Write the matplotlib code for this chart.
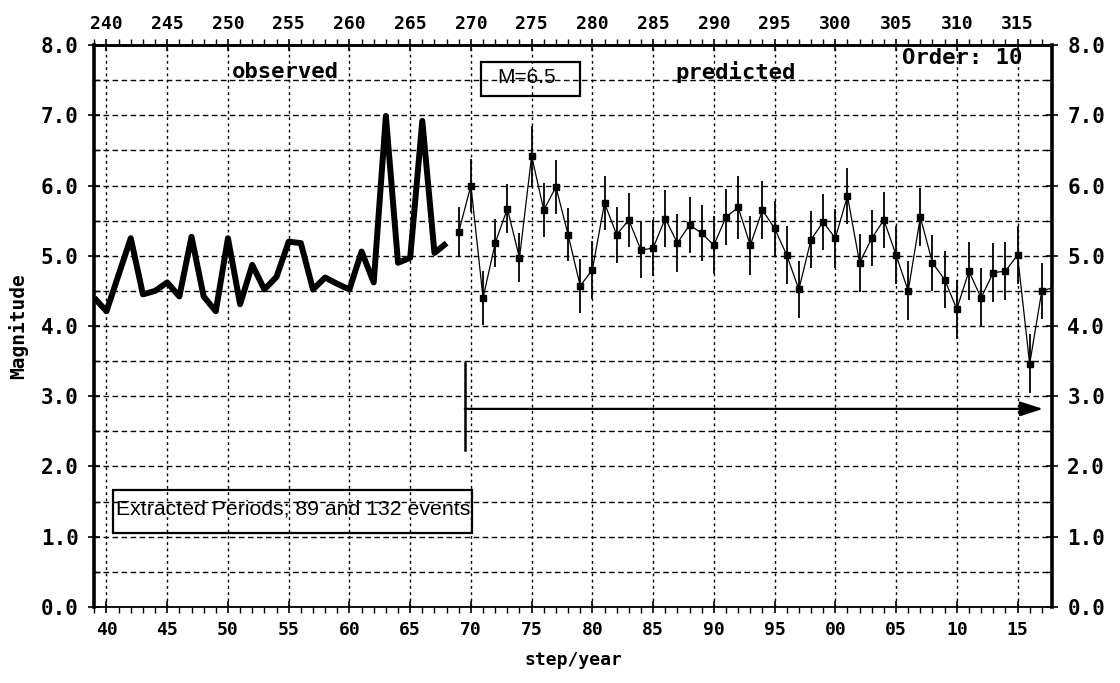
import matplotlib
matplotlib.use('Agg')
import matplotlib.pyplot as plt
from matplotlib.patches import Rectangle, FancyArrowPatch
from matplotlib.ticker import MultipleLocator

# ---------------- data ----------------
obs_years = list(range(239, 269))
obs_mag = [4.40, 4.21, 4.73, 5.25, 4.45, 4.50, 4.62, 4.42, 5.27, 4.42,
           4.21, 5.25, 4.31, 4.87, 4.52, 4.70, 5.20, 5.18, 4.52, 4.69,
           4.60, 4.52, 5.06, 4.62, 6.99, 4.90, 4.97, 6.92, 5.04, 5.18]

pred_years = list(range(269, 319))
pred_mag = [5.34, 6.00, 4.40, 5.18, 5.67, 4.97, 6.42, 5.65, 5.98, 5.30,
            4.57, 4.80, 5.75, 5.30, 5.51, 5.08, 5.11, 5.53, 5.18, 5.44,
            5.32, 5.15, 5.55, 5.69, 5.15, 5.65, 5.39, 5.01, 4.52, 5.23,
            5.48, 5.25, 5.85, 4.90, 5.25, 5.51, 5.01, 4.50, 5.55, 4.90,
            4.66, 4.24, 4.78, 4.40, 4.76, 4.78, 5.01, 3.46, 4.50, 4.55]
pred_err = [0.35, 0.38, 0.38, 0.34, 0.35, 0.35, 0.42, 0.39, 0.38, 0.38,
            0.38, 0.41, 0.38, 0.40, 0.38, 0.40, 0.40, 0.40, 0.41, 0.40,
            0.40, 0.41, 0.40, 0.45, 0.42, 0.41, 0.39, 0.41, 0.41, 0.41,
            0.40, 0.42, 0.40, 0.41, 0.40, 0.40, 0.41, 0.42, 0.41, 0.40,
            0.41, 0.42, 0.41, 0.42, 0.42, 0.41, 0.41, 0.42, 0.40, 0.40]

x_ticks = list(range(240, 316, 5))
bottom_labels = ['40', '45', '50', '55', '60', '65', '70', '75', '80', '85',
                 '90', '95', '00', '05', '10', '15']
top_labels = ['240', '245', '250', '255', '260', '265', '270', '275', '280',
              '285', '290', '295', '300', '305', '310', '315']
y_ticks = [0, 1, 2, 3, 4, 5, 6, 7, 8]
y_labels = ['0.0', '1.0', '2.0', '3.0', '4.0', '5.0', '6.0', '7.0', '8.0']

MONO = 'DejaVu Sans Mono'
SANS = 'Liberation Sans'

# ---------------- figure ----------------
fig = plt.figure(figsize=(11.2, 6.83), dpi=100)
ax = fig.add_axes([0.0839, 0.1113, 0.8554, 0.8228])
ax.set_xlim(238.97, 317.84)
ax.set_ylim(0, 8)

# grid
ax.set_axisbelow(True)
ax.xaxis.set_major_locator(MultipleLocator(5))
ax.xaxis.set_minor_locator(MultipleLocator(1))
ax.yaxis.set_major_locator(MultipleLocator(1))
ax.yaxis.set_minor_locator(MultipleLocator(0.5))
ax.xaxis.grid(True, which='major', color='black', lw=1.0, linestyle=(0, (2, 2.5)))
ax.yaxis.grid(True, which='both', color='black', lw=1.0, linestyle=(0, (4, 2.5)))

ax.set_xticks(x_ticks, bottom_labels)
ax.set_yticks(y_ticks, y_labels)

ax.tick_params(axis='x', which='major', direction='inout', length=8, width=1.2,
               pad=6, labelsize=13)
ax.tick_params(axis='x', which='minor', direction='out', length=4, width=1.0)
ax.tick_params(axis='y', which='major', direction='inout', length=8, width=1.2,
               pad=7, labelsize=15, left=True, right=True,
               labelleft=True, labelright=True)
ax.tick_params(axis='y', which='minor', direction='in', length=4, width=1.0,
               left=True, right=True)
for lab in ax.get_xticklabels() + ax.get_yticklabels():
    lab.set_fontfamily(MONO)
    lab.set_fontweight('bold')

sec = ax.secondary_xaxis('top')
sec.set_xticks(x_ticks, top_labels)
sec.xaxis.set_minor_locator(MultipleLocator(1))
sec.tick_params(axis='x', which='major', direction='inout', length=8, width=1.2,
                pad=5, labelsize=13)
sec.tick_params(axis='x', which='minor', direction='out', length=4, width=1.0)
for lab in sec.get_xticklabels():
    lab.set_fontfamily(MONO)
    lab.set_fontweight('bold')
sec.spines['top'].set_linewidth(1.8)

for side, w in [('left', 2.6), ('right', 2.6), ('top', 1.8), ('bottom', 1.3)]:
    ax.spines[side].set_linewidth(w)

# observed (thick)
ax.plot(obs_years, obs_mag, color='black', lw=4.3, solid_joinstyle='round',
        solid_capstyle='butt', zorder=4)

# predicted with error bars
ax.errorbar(pred_years, pred_mag, yerr=pred_err, fmt='-s', color='black',
            lw=0.9, ms=4, elinewidth=1.3, capsize=0, zorder=4)

# arrow marking the prediction interval
ax.plot([269.5, 269.5], [2.23, 3.47], color='black', lw=1.8, zorder=4)
arr = FancyArrowPatch((269.5, 2.82), (317.1, 2.82),
                      arrowstyle='-|>,head_length=1.4,head_width=0.45',
                      mutation_scale=10, lw=1.6, color='black',
                      shrinkA=0, shrinkB=0, zorder=4)
ax.add_patch(arr)

# annotations
ax.text(254.7, 7.62, 'observed', ha='center', va='center', fontsize=16,
        fontfamily=MONO, fontweight='bold')
ax.text(291.8, 7.62, 'predicted', ha='center', va='center', fontsize=16,
        fontfamily=MONO, fontweight='bold')
ax.text(315.4, 7.81, 'Order: 10', ha='right', va='center', fontsize=16,
        fontfamily=MONO, fontweight='bold')

ax.add_patch(Rectangle((270.86, 7.27), 8.1, 0.49, fill=False, lw=1.6,
                       edgecolor='black', zorder=5))
ax.text(274.6, 7.54, 'M=6.5', ha='center', va='center', fontsize=15,
        fontfamily=SANS, zorder=5)

ax.add_patch(Rectangle((240.5, 1.05), 29.6, 0.61, fill=False, lw=1.6,
                       edgecolor='black', zorder=5))
ax.text(240.8, 1.40, 'Extracted Periods; 89 and 132 events', ha='left',
        va='center', fontsize=15.3, fontfamily=SANS, zorder=5)

ax.set_xlabel('step/year', fontsize=13, fontfamily=MONO, fontweight='bold',
              labelpad=9)
ax.set_ylabel('Magnitude', fontsize=14, fontfamily=MONO, fontweight='bold',
              labelpad=9)

fig.savefig('out.png', dpi=100)
